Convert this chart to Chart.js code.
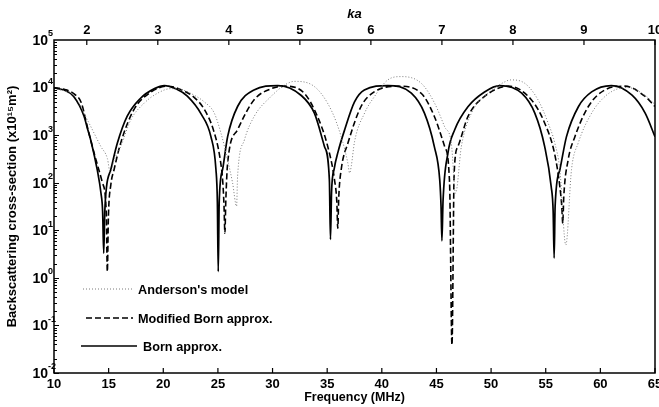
<!DOCTYPE html>
<html><head><meta charset="utf-8">
<script src="https://cdn.jsdelivr.net/npm/chart.js@4.4.1/dist/chart.umd.min.js"></script>
<style>html,body{margin:0;padding:0;background:#fff}#wrap{width:659px;height:407px;position:relative}</style>
</head><body><div id="wrap"><canvas id="c"></canvas></div>
<script>
// ---- data ----
const seriesNames = ["Anderson's model", "Modified Born approx.", "Born approx."];

const bornFreq = [10.0,10.9,11.8,12.75,13.05,13.36,13.95,14.3,14.45,14.55,14.65,14.8,15.2,15.8,16.7,17.9,19.2,20.1,21.2,22.2,23.5,24.36,24.82,24.95,25.03,25.12,25.43,25.89,26.8,28.3,30.47,32.6,33.83,34.75,35.2,35.3,35.4,35.65,36.0,36.6,37.5,38.4,40.55,42.7,43.9,44.8,45.3,45.42,45.5,45.6,46.05,46.67,47.9,49.4,50.8,52.8,54.0,54.9,55.5,55.68,55.77,55.86,56.3,56.9,58.0,59.2,61.0,62.9,64.1,65.0];
const bornValue = [9800,8900,6500,2500,1400,790,190,60,25,3.3,25,80,190,680,2500,5900,9500,11000,9300,6600,2700,930,190,40,1.35,40,190,930,4000,8900,11000,6900,2900,580,115,6.4,63,200,450,1300,5000,8900,11000,7600,2900,580,115,32,6,40,420,1300,4000,8100,11000,7600,2900,580,83,25,2.6,32,190,930,4000,8100,11000,6900,2900,930];

const modFreq = [10.0,11.0,11.9,12.5,13.05,13.67,14.43,14.78,14.88,14.98,15.2,15.5,16.1,17.3,18.9,20.4,21.7,22.8,23.75,24.6,25.2,25.45,25.56,25.64,25.72,25.89,26.8,28.3,29.9,31.1,32.9,34.1,35.05,35.67,35.88,35.97,36.06,36.3,36.9,38.1,39.3,41.5,43.6,44.8,45.75,46.2,46.42,46.62,46.97,47.9,49.4,51.6,53.7,54.9,55.8,56.3,56.47,56.56,56.65,57.05,57.67,58.9,60.4,62.25,64.1,65.0];
const modValue = [10000,9100,7200,4800,1500,420,100,25,1.35,20,90,190,680,3400,8100,10700,8900,6300,3500,1260,320,100,32,8.7,40,260,1300,5500,9500,10700,7600,2500,580,115,40,11,50,200,680,4000,8100,10700,7600,2500,580,100,0.039,160,580,2500,6500,10700,5500,1800,420,80,32,14,50,300,930,4000,8900,10700,6500,4000];

const andFreq = [10.0,11.0,11.83,13.05,14.28,14.89,15.15,15.5,16.11,17.03,18.25,19.47,20.69,21.8,22.83,23.75,24.67,25.28,25.89,26.34,26.71,26.8,27.42,28.33,29.86,31.08,32.0,33.83,35.36,36.28,36.89,37.05,37.2,37.5,38.42,39.33,40.55,41.78,43.61,44.83,45.75,46.36,46.75,47.28,48.2,49.72,51.25,51.8,53.08,54.3,55.22,55.83,56.29,56.84,57.36,57.97,59.2,60.42,61.64,62.5,64.08,65.0];
const andValue = [9300,8500,6900,2100,580,320,160,300,580,2100,4700,7600,9500,8900,6900,5000,2900,1100,300,100,32,135,790,2500,6500,11200,13500,10500,3400,930,260,160,220,720,2900,6500,14500,17000,12300,4700,1500,680,60,580,2900,7600,13200,14500,12300,5500,1800,680,190,4.9,190,680,2900,6500,9500,10000,6900,4400];

const freqTicks = [10,15,20,25,30,35,40,45,50,55,60,65];
const kaTicks = [2,3,4,5,6,7,8,9,10];
const yTicks = [1e-2,1e-1,1,10,100,1e3,1e4,1e5];
const yTickBase = '10';
const yTickExponents = ['-2','-1','0','1','2','3','4','5'];
const freqMin = 10, freqMax = 65, kaAtFreqMax = 10;
const yTitle = 'Backscattering cross-section (x10\u00B9\u2075m\u00B2)';

// ---- chart ----
const FONT = "'Liberation Sans', Arial, Helvetica, sans-serif";
const toXY = (xs, ys) => xs.map((x, i) => ({x: x, y: ys[i]}));
const styles = [
  {borderColor: '#7a7a7a', borderWidth: 1, borderDash: [1, 2]},
  {borderColor: '#000', borderWidth: 1.6, borderDash: [6, 3]},
  {borderColor: '#000', borderWidth: 1.7, borderDash: []}
];
const dataSets = [toXY(andFreq, andValue), toXY(modFreq, modValue), toXY(bornFreq, bornValue)];

const framePlugin = {
  id: 'frame',
  afterDraw(chart) {
    const {ctx, chartArea: a, scales} = chart;
    ctx.save();
    ctx.strokeStyle = '#000';
    ctx.lineWidth = 1.5;
    ctx.strokeRect(a.left, a.top, a.right - a.left, a.bottom - a.top);
    ctx.lineWidth = 1.2;
    ctx.beginPath();
    freqTicks.forEach(v => { const p = scales.x.getPixelForValue(v); ctx.moveTo(p, a.bottom); ctx.lineTo(p, a.bottom - 5); });
    kaTicks.forEach(v => { const p = scales.ka.getPixelForValue(v); ctx.moveTo(p, a.top); ctx.lineTo(p, a.top + 5); });
    ctx.stroke();
    ctx.lineWidth = 1;
    ctx.beginPath();
    for (let d = -2; d < 5; d++) {
      for (let m = 1; m < 10; m++) {
        const p = Math.round(scales.y.getPixelForValue(m * Math.pow(10, d))) + 0.5;
        ctx.moveTo(a.left, p); ctx.lineTo(a.left + (m === 1 ? 5 : 3), p);
      }
    }
    ctx.stroke();
    // y tick labels: base with raised exponent
    ctx.fillStyle = '#000';
    ctx.textBaseline = 'middle';
    yTicks.forEach((v, i) => {
      const p = scales.y.getPixelForValue(v);
      ctx.font = 'bold 14px ' + FONT;
      ctx.textAlign = 'right';
      ctx.fillText(yTickBase, a.left - 6, p + 1);
      ctx.font = 'bold 9px ' + FONT;
      ctx.textAlign = 'left';
      ctx.fillText(yTickExponents[i], a.left - 6, p - 6);
    });
    // legend inside plot
    const items = [
      {x0: 83, x1: 133, y: 289, tx: 138},
      {x0: 86, x1: 133, y: 318, tx: 138},
      {x0: 81, x1: 137, y: 346, tx: 143}
    ];
    ctx.font = 'bold 12.7px ' + FONT;
    ctx.textAlign = 'left';
    items.forEach((it, i) => {
      const s = styles[i];
      ctx.save();
      ctx.strokeStyle = s.borderColor; ctx.lineWidth = s.borderWidth; ctx.setLineDash(s.borderDash);
      ctx.beginPath(); ctx.moveTo(it.x0, it.y); ctx.lineTo(it.x1, it.y); ctx.stroke();
      ctx.restore();
      ctx.fillText(seriesNames[i], it.tx, it.y + 1);
    });
    ctx.restore();
  }
};

const tickFont = {family: FONT, size: 13, weight: 'bold'};
new Chart(document.getElementById('c'), {
  type: 'line',
  data: {
    datasets: dataSets.map((d, i) => Object.assign({
      label: seriesNames[i], data: d, pointRadius: 0, fill: false,
      cubicInterpolationMode: 'monotone'
    }, styles[i]))
  },
  options: {
    responsive: true, maintainAspectRatio: false, animation: false,
    devicePixelRatio: 1,
    layout: {padding: {left: 0, right: 4, top: 0, bottom: 0}},
    plugins: {legend: {display: false}, tooltip: {enabled: false}},
    scales: {
      x: {
        type: 'linear', position: 'bottom', min: freqMin, max: freqMax,
        afterBuildTicks: s => { s.ticks = freqTicks.map(v => ({value: v})); },
        afterFit: s => { s.height = 34; s.paddingLeft = 0; s.paddingRight = 0; },
        grid: {display: false, drawTicks: false}, border: {display: false},
        ticks: {font: tickFont, color: '#000', padding: 4, maxRotation: 0, autoSkip: false},
        title: {display: true, text: 'Frequency (MHz)', color: '#000', font: {family: FONT, size: 12.5, weight: 'bold'}, padding: {top: 0, bottom: 2}}
      },
      ka: {
        type: 'linear', axis: 'x', position: 'top',
        min: freqMin * kaAtFreqMax / freqMax, max: kaAtFreqMax,
        afterBuildTicks: s => { s.ticks = kaTicks.map(v => ({value: v})); },
        afterFit: s => { s.height = 40; s.paddingLeft = 0; s.paddingRight = 0; },
        grid: {display: false, drawTicks: false}, border: {display: false},
        ticks: {font: tickFont, color: '#000', padding: 2, maxRotation: 0, autoSkip: false},
        title: {display: true, text: 'ka', color: '#000', font: {family: FONT, size: 13, weight: 'bold', style: 'italic'}, padding: {top: 7, bottom: 0}}
      },
      y: {
        type: 'logarithmic', position: 'left', min: 1e-2, max: 1e5,
        afterBuildTicks: s => { s.ticks = yTicks.map(v => ({value: v})); },
        afterFit: s => { s.width = 54; s.paddingTop = 0; s.paddingBottom = 0; },
        grid: {display: false, drawTicks: false}, border: {display: false},
        ticks: {display: false},
        title: {display: true, text: yTitle, color: '#000', font: {family: FONT, size: 13, weight: 'bold'}, padding: {top: 5, bottom: 0}}
      }
    }
  },
  plugins: [framePlugin]
});
</script>
</body></html>
